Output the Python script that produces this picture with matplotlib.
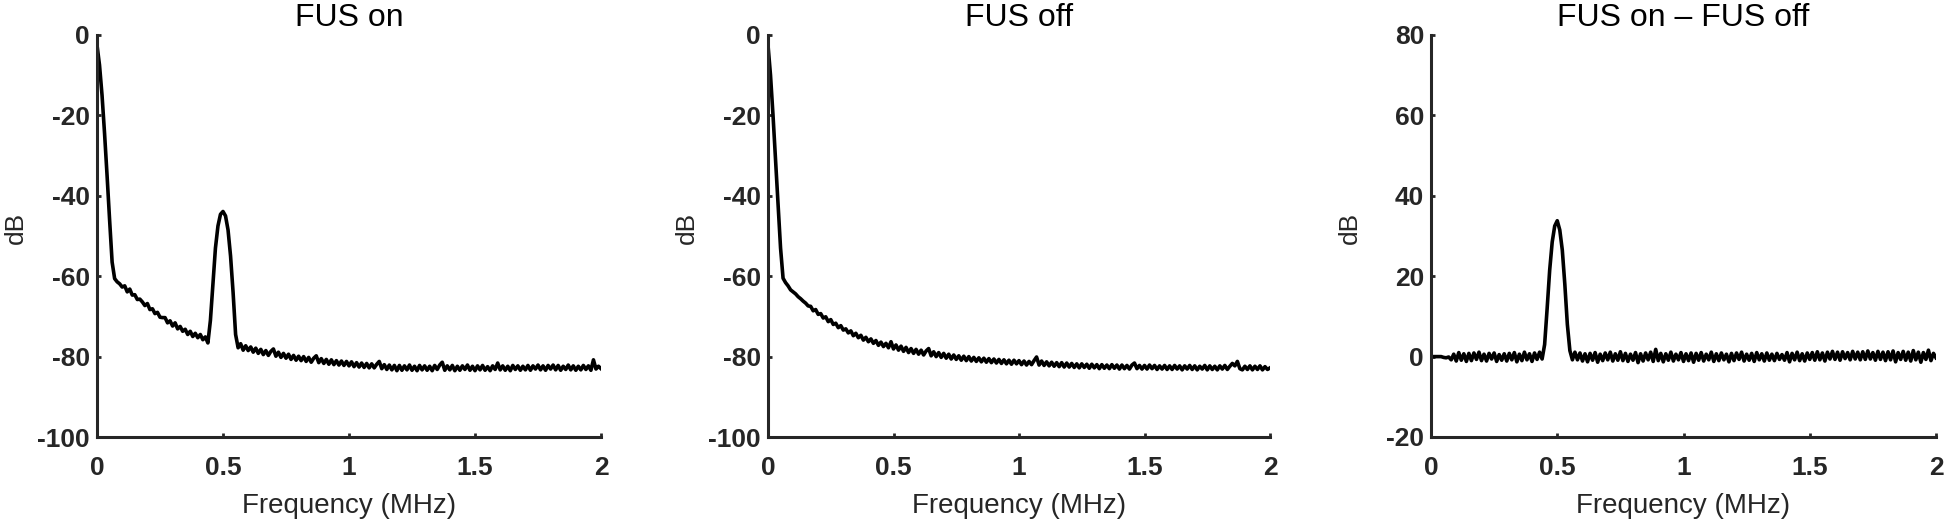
import numpy as np
import matplotlib

matplotlib.use("Agg")
import matplotlib.pyplot as plt

plt.rcParams["font.family"] = ["Liberation Sans", "DejaVu Sans"]
plt.rcParams["axes.unicode_minus"] = False

# frequency grid (MHz), one value every 0.01 MHz
freq_mhz = np.round(np.arange(201) * 0.01, 2)

# spectra (dB)
fus_on_db = [
    -2.5, -7.5, -15.0, -24.5, -35.0, -46.0, -56.5, -60.6, -61.4, -61.9,
    -62.7, -62.4, -63.9, -63.2, -64.7, -64.6, -65.8, -65.7, -66.4, -67.3,
    -66.8, -68.3, -68.1, -69.3, -69.0, -70.2, -70.3, -70.3, -71.6, -71.1,
    -72.4, -71.6, -73.1, -72.5, -73.7, -73.2, -74.5, -73.7, -75.0, -74.2,
    -75.3, -74.5, -75.8, -75.1, -76.6, -71.0, -62.0, -53.0, -47.5, -44.6,
    -43.9, -45.0, -48.5, -55.0, -64.0, -74.5, -77.8, -76.8, -78.4, -77.3,
    -78.5, -77.6, -78.9, -77.9, -79.2, -78.2, -79.5, -78.5, -79.7, -78.7,
    -78.1, -79.9, -78.9, -80.2, -79.2, -80.4, -79.4, -80.7, -79.7, -80.9,
    -79.9, -81.0, -80.0, -81.2, -80.2, -81.4, -80.4, -79.8, -81.5, -80.5,
    -81.7, -80.7, -81.9, -80.8, -82.0, -81.0, -82.1, -81.1, -82.2, -81.2,
    -82.3, -81.3, -82.5, -81.5, -82.6, -81.6, -82.7, -81.7, -82.8, -81.8,
    -82.8, -81.9, -81.2, -83.0, -82.0, -83.2, -82.1, -83.3, -82.2, -83.5,
    -82.2, -83.4, -82.3, -83.3, -82.1, -83.4, -82.4, -83.5, -82.2, -83.3,
    -82.3, -83.4, -82.4, -83.5, -82.2, -83.2, -82.1, -81.4, -83.4, -82.3,
    -83.3, -82.2, -83.5, -82.4, -83.4, -82.3, -83.2, -82.1, -83.4, -82.4,
    -83.5, -82.3, -83.3, -82.2, -83.4, -82.5, -83.5, -82.3, -83.2, -81.6,
    -83.3, -82.3, -83.4, -82.4, -83.5, -82.2, -83.2, -82.3, -83.4, -82.4,
    -83.3, -82.2, -83.4, -82.3, -83.1, -82.1, -83.3, -82.3, -83.4, -82.2,
    -83.1, -82.1, -83.3, -82.2, -83.4, -82.4, -83.2, -82.1, -83.3, -82.3,
    -83.4, -82.4, -83.3, -82.2, -83.2, -82.3, -83.4, -80.8, -83.1, -82.4,
    -83.0,
]

fus_off_db = [
    -2.5, -10.0, -20.0, -31.0, -42.0, -53.0, -60.5, -61.6, -62.4, -63.4,
    -63.9, -64.4, -65.1, -65.6, -66.2, -66.7, -67.4, -67.5, -68.6, -68.3,
    -69.5, -69.3, -70.4, -70.1, -71.3, -70.8, -72.0, -71.7, -72.8, -72.3,
    -73.4, -73.1, -74.1, -73.6, -74.8, -74.2, -75.3, -74.7, -75.9, -75.2,
    -76.3, -75.6, -76.7, -76.0, -77.2, -76.4, -77.5, -76.7, -77.8, -76.3,
    -78.1, -77.1, -78.4, -77.4, -78.7, -77.7, -79.0, -78.0, -79.2, -78.2,
    -79.4, -78.4, -79.6, -78.6, -78.0, -79.8, -78.8, -80.0, -79.0, -80.2,
    -79.2, -80.4, -79.4, -80.6, -79.6, -80.7, -79.8, -80.9, -79.9, -81.0,
    -80.0, -81.1, -80.2, -81.2, -80.3, -81.3, -80.4, -81.4, -80.5, -81.5,
    -80.6, -81.6, -80.7, -81.7, -80.8, -81.8, -80.9, -81.9, -80.9, -81.8,
    -81.0, -82.0, -81.1, -82.1, -81.2, -82.0, -81.0, -80.1, -82.1, -81.1,
    -82.2, -81.3, -82.3, -81.4, -82.4, -81.5, -82.5, -81.5, -82.6, -81.6,
    -82.6, -81.7, -82.7, -81.8, -82.8, -81.8, -82.7, -81.9, -82.9, -81.9,
    -82.8, -82.0, -83.0, -82.0, -82.9, -82.1, -83.0, -82.0, -82.9, -82.1,
    -83.1, -82.1, -83.0, -82.2, -83.1, -82.1, -81.6, -83.0, -82.2, -83.1,
    -82.2, -83.1, -82.1, -83.0, -82.2, -83.2, -82.3, -83.1, -82.2, -83.2,
    -82.3, -83.2, -82.2, -83.1, -82.3, -83.3, -82.3, -83.1, -82.2, -83.2,
    -82.3, -83.3, -82.4, -83.1, -82.2, -83.3, -82.3, -83.2, -82.4, -83.3,
    -82.3, -83.1, -82.2, -83.2, -82.4, -81.7, -82.3, -81.2, -83.0, -83.3,
    -82.4, -83.2, -82.3, -83.3, -82.4, -83.2, -82.3, -83.3, -82.5, -83.2,
    -82.8,
]

fus_diff_db = [
    0.0, 0.0, 0.0, 0.0, 0.0, -0.2, -0.3, -0.1, -0.8, 0.6,
    -1.1, 1.0, -0.9, 0.7, -1.2, 0.8, -1.0, 0.9, -0.7, 1.1,
    -1.0, 0.6, -1.1, 0.8, -0.6, 0.9, -1.2, 0.5, -0.9, 0.7,
    -1.1, 0.8, -0.8, 1.0, -1.3, 0.6, -1.0, 1.1, -0.8, 0.7,
    -1.2, 0.9, -0.7, 1.1, -0.6, 3.0, 12.0, 21.5, 28.5, 32.5,
    33.8, 31.5, 26.5, 18.0, 8.0, 1.5, -0.8, 1.1, -0.8, 0.9,
    -1.1, 0.7, -1.3, 0.8, -0.9, 1.0, -1.4, 0.6, -1.0, 0.9,
    -0.8, 1.1, -1.1, 0.7, -0.9, 1.2, -1.0, 0.8, -1.2, 0.6,
    -0.9, 1.0, -1.5, 0.7, -1.1, 0.9, -0.8, 1.1, -1.2, 1.8,
    -1.0, 0.8, -1.3, 0.7, -0.9, 1.1, -1.1, 0.6, -0.8, 1.0,
    -1.2, 0.7, -1.0, 0.9, -1.4, 0.8, -0.9, 1.0, -1.1, 0.6,
    -0.8, 1.1, -1.2, 0.7, -1.0, 0.9, -0.8, 0.6, -1.3, 0.8,
    -1.0, 0.9, -0.7, 1.1, -1.1, 0.6, -0.9, 0.8, -1.2, 1.0,
    -0.8, 0.7, -1.1, 0.9, -0.9, 0.6, -1.0, 0.8, -0.7, 0.5,
    -0.9, 1.0, -1.3, 0.8, -0.8, 1.1, -1.0, 0.7, -1.1, 0.9,
    -0.7, 1.0, -0.9, 1.2, -0.8, 0.9, -1.1, 1.1, -0.6, 1.3,
    -0.7, 1.1, -0.9, 1.2, -0.5, 1.0, -0.8, 1.3, -0.6, 1.1,
    -0.8, 1.2, -0.7, 1.4, -0.6, 1.0, -0.9, 1.3, -0.7, 1.1,
    -1.0, 1.2, -0.8, 1.4, -1.3, 1.0, -0.7, 1.3, -0.9, 1.1,
    -1.1, 1.5, -0.8, 1.1, -1.4, 1.0, -0.7, 1.6, -1.0, 0.8,
    -0.3,
]

titles = ["FUS on", "FUS off", "FUS on \u2013 FUS off"]
y_limits = [(-100, 0), (-100, 0), (-20, 80)]
y_ticks = [
    [-100, -80, -60, -40, -20, 0],
    [-100, -80, -60, -40, -20, 0],
    [-20, 0, 20, 40, 60, 80],
]
x_ticks = [0, 0.5, 1, 1.5, 2]
x_tick_labels = ["0", "0.5", "1", "1.5", "2"]

W, H = 1946, 525
axis_color = "#262626"

fig = plt.figure(figsize=(W / 100, H / 100), dpi=100)
fig.patch.set_facecolor("white")

# pixel extents of each panel: left, right (top/bottom shared)
panel_px = [(97, 601), (768, 1270), (1431, 1936)]
top_px, bottom_px = 35, 437

series = [fus_on_db, fus_off_db, fus_diff_db]

for i, (x0, x1) in enumerate(panel_px):
    rect = [x0 / W, (H - bottom_px) / H, (x1 - x0) / W, (bottom_px - top_px) / H]
    ax = fig.add_axes(rect)
    ax.plot(freq_mhz, series[i], color="black", lw=2.6, solid_joinstyle="round")

    ax.set_xlim(0, 2)
    ax.set_ylim(*y_limits[i])
    ax.set_xticks(x_ticks)
    ax.set_xticklabels(x_tick_labels, fontweight="bold")
    ax.set_yticks(y_ticks[i])
    ax.set_yticklabels([str(v) for v in y_ticks[i]], fontweight="bold")

    for side in ["top", "right"]:
        ax.spines[side].set_visible(False)
    for side in ["left", "bottom"]:
        ax.spines[side].set_color(axis_color)
        ax.spines[side].set_linewidth(2.2)

    ax.tick_params(axis="both", direction="in", length=3, width=2,
                   color=axis_color, labelcolor=axis_color, labelsize=19)
    ax.tick_params(axis="x", pad=14)
    ax.tick_params(axis="y", pad=5)

    ax.set_title(titles[i], fontsize=23, color="black", pad=6.5)
    ax.set_xlabel("Frequency (MHz)", fontsize=20, color=axis_color)
    ax.set_ylabel("dB", fontsize=19, color=axis_color)
    ax.xaxis.set_label_coords(0.5, -0.139)
    ax.yaxis.set_label_coords(-0.137, 0.52)

fig.savefig("out.png", dpi=100, facecolor=fig.get_facecolor())
